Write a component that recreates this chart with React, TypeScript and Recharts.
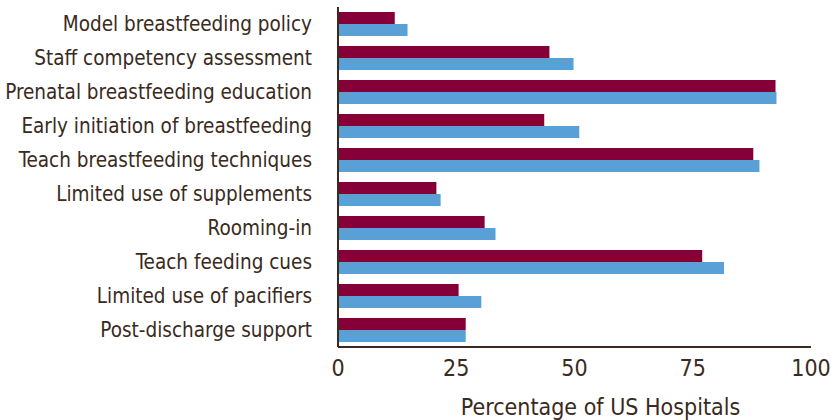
import { BarChart, Bar, XAxis, YAxis, Label } from "recharts";

const practices = [
  "Model breastfeeding policy",
  "Staff competency assessment",
  "Prenatal breastfeeding education",
  "Early initiation of breastfeeding",
  "Teach breastfeeding techniques",
  "Limited use of supplements",
  "Rooming-in",
  "Teach feeding cues",
  "Limited use of pacifiers",
  "Post-discharge support",
];

const earlierSurvey = [12, 44.7, 92.5, 43.6, 87.8, 20.8, 31, 77, 25.5, 27];
const laterSurvey = [14.7, 49.8, 92.7, 51, 89.1, 21.7, 33.3, 81.6, 30.3, 27];

const xTicks = [0, 25, 50, 75, 100];

const textColor = "#3a2a20";
const font = "'DejaVu Sans Condensed', sans-serif";

const data = practices.map((name, i) => ({
  name,
  earlier: earlierSurvey[i],
  later: laterSurvey[i],
}));

export default function App() {
  return (
    <div style={{ position: "absolute", left: 0, top: 0, fontFamily: font }}>
      <BarChart
        width={831}
        height={420}
        data={data}
        layout="vertical"
        margin={{ top: 7, right: 20, left: 0, bottom: 0 }}
        barGap={0}
        barSize={12}
      >
        <XAxis
          type="number"
          domain={[0, 100]}
          ticks={xTicks}
          height={73}
          tickLine={false}
          tickSize={0}
          tickMargin={13}
          axisLine={{ stroke: textColor, strokeWidth: 2 }}
          tick={{ fill: textColor, fontSize: 23, fontFamily: font }}
        >
          <Label
            value="Percentage of US Hospitals"
            position="insideBottom"
            offset={5}
            dx={26}
            fill={textColor}
            fontSize={23}
            fontFamily={font}
          />
        </XAxis>
        <YAxis
          type="category"
          dataKey="name"
          width={338}
          tickLine={false}
          tickSize={0}
          tickMargin={26}
          interval={0}
          axisLine={{ stroke: textColor, strokeWidth: 2 }}
          tick={{ fill: textColor, fontSize: 20.5, fontFamily: font }}
        />
        <Bar dataKey="earlier" fill="#850038" isAnimationActive={false} />
        <Bar dataKey="later" fill="#58a0d6" isAnimationActive={false} />
      </BarChart>
    </div>
  );
}
